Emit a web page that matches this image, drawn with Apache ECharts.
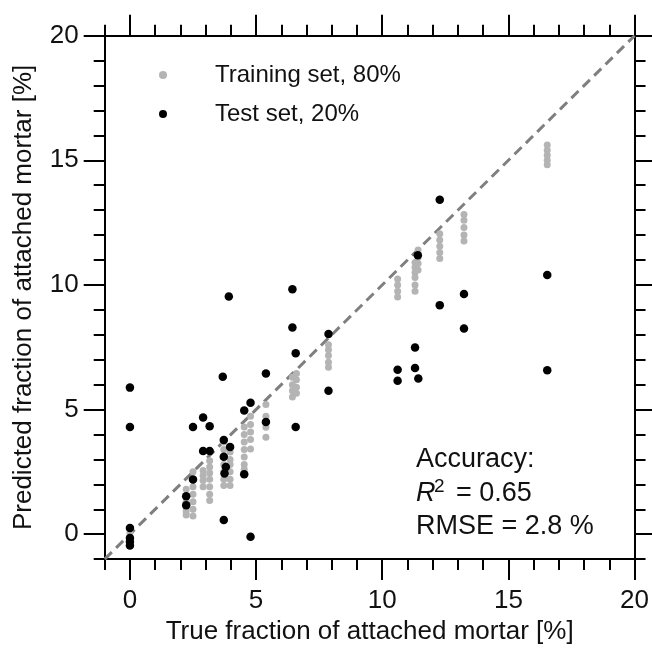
<!DOCTYPE html>
<html><head><meta charset="utf-8">
<script src="https://cdn.jsdelivr.net/npm/echarts@6/dist/echarts.min.js"></script>
<style>html,body{margin:0;padding:0;background:#fff}#c{width:652px;height:650px}</style>
</head><body><div id="c"></div>
<script>
// ---- data ----
const trainColumnTrue = [0, 2.23, 2.5, 2.9, 3.16, 3.72, 3.97, 4.53, 4.78, 5.39, 6.44, 6.6, 7.87, 10.61, 11.3, 11.42, 12.28, 13.24, 16.54];
const trainColumnPred = [
  [0.2, 0.05, -0.1, -0.2],
  [1.8, 1.55, 1.3, 1.05, 0.9, 0.77],
  [2.5, 2.2, 1.9, 1.6, 1.3, 1.0, 0.73],
  [2.55, 2.35, 2.15, 1.9],
  [2.95, 2.7, 2.45, 2.2, 1.9, 1.6, 1.35],
  [3.7, 3.4, 3.1, 2.8, 2.5, 2.2, 1.95],
  [3.3, 3.0, 2.8, 2.5, 2.2, 1.95],
  [4.3, 4.0, 3.7, 3.4, 3.1, 2.8, 2.6],
  [4.73, 4.4, 4.1, 3.8, 3.42],
  [5.2, 4.73, 4.29, 3.89],
  [6.3, 6.0, 5.75, 5.5],
  [6.45, 6.2, 5.9, 5.65],
  [7.6, 7.4, 7.17, 6.9, 6.7],
  [10.24, 10.0, 9.75, 9.52],
  [10.9, 10.7, 10.5, 10.3, 10.0, 9.75],
  [11.4, 11.1, 10.86, 10.6],
  [12.05, 11.8, 11.55, 11.3, 11.06],
  [12.83, 12.6, 12.3, 12.0, 11.76],
  [15.61, 15.4, 15.2, 15.0, 14.82]
];
const testTrue = [0, 0, 0, 0, 0, 0, 2.23, 2.23, 2.5, 2.5, 2.9, 2.9, 3.16, 3.16, 3.68, 3.72, 3.97, 3.72, 3.8, 3.75, 3.72, 3.92, 4.53, 4.53, 4.78, 4.78, 5.39, 5.39, 6.44, 6.44, 6.57, 6.57, 7.87, 7.87, 10.61, 10.61, 11.3, 11.3, 11.41, 11.43, 12.28, 12.28, 13.24, 13.24, 16.54, 16.54];
const testPred = [5.88, 4.3, 0.25, -0.15, -0.3, -0.45, 1.52, 1.16, 2.19, 4.3, 3.34, 4.68, 4.33, 3.34, 6.32, 3.78, 3.5, 3.11, 2.7, 2.43, 0.57, 9.54, 4.96, 2.4, 5.27, -0.1, 6.45, 4.5, 9.83, 8.29, 7.26, 4.3, 8.03, 5.75, 6.6, 6.16, 7.49, 6.67, 11.19, 6.25, 13.42, 9.19, 9.64, 8.25, 10.4, 6.58];
const identityLine = [-1, 20];
const majorTicks = [0, 5, 10, 15, 20];
const minorTicks = [-1, 0, 1, 2, 3, 4, 5, 6, 7, 8, 9, 10, 11, 12, 13, 14, 15, 16, 17, 18, 19, 20];
const xTitle = 'True fraction of attached mortar [%]';
const yTitle = 'Predicted fraction of attached mortar [%]';
const trainName = 'Training set, 80%';
const testName = 'Test set, 20%';

// ---- build ----
const FONT = '"Liberation Sans", Arial, sans-serif';
const trainData = [];
trainColumnTrue.forEach((x, i) => trainColumnPred[i].forEach(y => trainData.push([x, y])));
const testData = testTrue.map((x, i) => [x, testPred[i]]);

function mkAxis(pos, major, opts) {
  return Object.assign({
    type: 'value', min: -1, max: 20, position: pos,
    axisLine: { show: true, onZero: false, lineStyle: { color: '#000', width: 2 } },
    axisTick: { show: true, inside: false, length: major ? 21 : 11, customValues: major ? majorTicks : minorTicks, lineStyle: { color: '#000', width: 2 } },
    axisLabel: { show: false },
    splitLine: { show: false }
  }, opts || {});
}
const labelStyle = { show: true, customValues: majorTicks, fontSize: 26, color: '#111', fontFamily: FONT };

const chart = echarts.init(document.getElementById('c'));
chart.setOption({
  animation: false,
  backgroundColor: '#fff',
  grid: { left: 104.7, right: 12, top: 35.7, bottom: 83.3 },
  xAxis: [
    mkAxis('bottom', true, { axisLabel: Object.assign({ margin: 29 }, labelStyle), name: xTitle, nameLocation: 'middle', nameGap: 57, nameTextStyle: { fontSize: 26, color: '#111', fontFamily: FONT } }),
    mkAxis('bottom', false),
    mkAxis('top', true),
    mkAxis('top', false)
  ],
  yAxis: [
    mkAxis('left', true, { axisLabel: Object.assign({ margin: 26 }, labelStyle), name: yTitle, nameLocation: 'middle', nameGap: 68, nameTextStyle: { fontSize: 26, color: '#111', fontFamily: FONT } }),
    mkAxis('left', false),
    mkAxis('right', true),
    mkAxis('right', false)
  ],
  legend: {
    data: [trainName, testName], orient: 'vertical', left: 154, top: 58,
    itemWidth: 8, itemHeight: 8, itemGap: 15,
    textStyle: { fontSize: 24, color: '#111', fontFamily: FONT, padding: [0, 0, 0, 43] }
  },
  series: [
    { type: 'line', data: identityLine.map(v => [v, v]), symbol: 'none', silent: true,
      lineStyle: { color: '#7f7f7f', width: 3, type: [10, 6] }, z: 1 },
    { name: trainName, type: 'scatter', data: trainData, symbol: 'circle', symbolSize: 7,
      itemStyle: { color: '#b4b4b4', opacity: 1 }, z: 2 },
    { name: testName, type: 'scatter', data: testData, symbol: 'circle', symbolSize: 8.5,
      itemStyle: { color: '#000', opacity: 1 }, z: 3 }
  ],
  graphic: [
    { type: 'text', left: 416, top: 446, style: { text: 'Accuracy:', font: '27px ' + FONT, fill: '#111' } },
    { type: 'text', left: 416, top: 480, style: { text: 'R', font: 'italic 27px ' + FONT, fill: '#111' } },
    { type: 'text', left: 434, top: 477, style: { text: '2', font: '19px ' + FONT, fill: '#111' } },
    { type: 'text', left: 456, top: 480, style: { text: '= 0.65', font: '27px ' + FONT, fill: '#111' } },
    { type: 'text', left: 416, top: 513, style: { text: 'RMSE = 2.8 %', font: '27px ' + FONT, fill: '#111' } }
  ]
});
</script></body></html>
